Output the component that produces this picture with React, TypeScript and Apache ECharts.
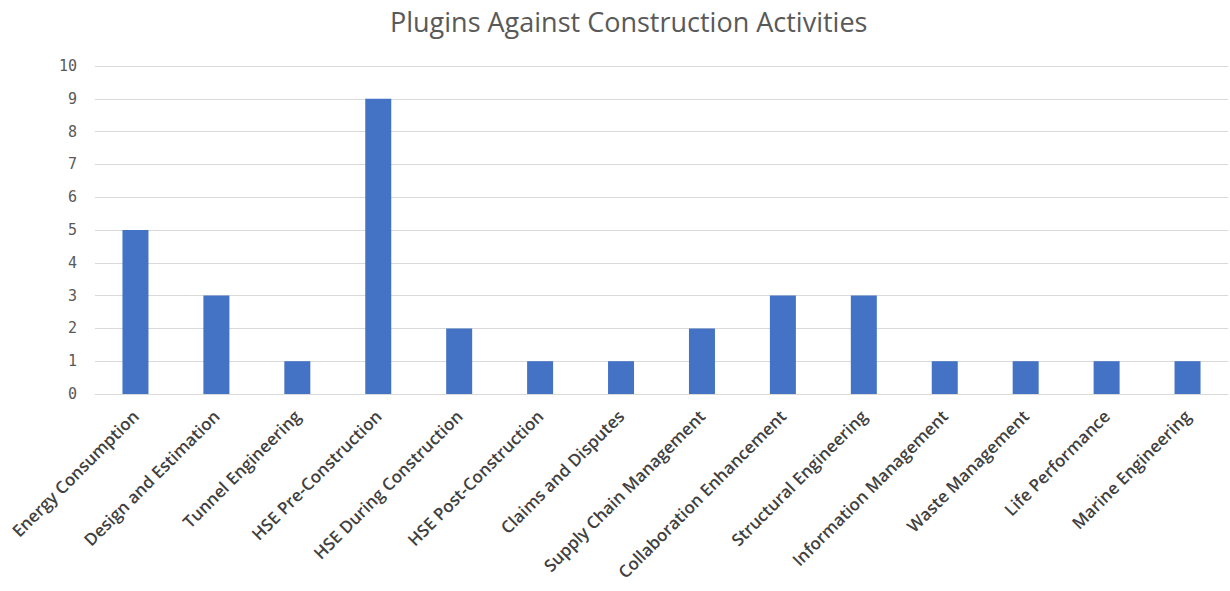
import React, { useEffect, useRef } from "react";
import * as echarts from "echarts";

const categories = [
  "Energy Consumption",
  "Design and Estimation",
  "Tunnel Engineering",
  "HSE Pre-Construction",
  "HSE During Construction",
  "HSE Post-Construction",
  "Claims and Disputes",
  "Supply Chain Management",
  "Collaboration Enhancement",
  "Structural Engineering",
  "Information Management",
  "Waste Management",
  "Life Performance",
  "Marine Engineering",
];
const values = [5, 3, 1, 9, 2, 1, 1, 2, 3, 3, 1, 1, 1, 1];
const titleText = "Plugins Against Construction Activities";

export default function App() {
  const ref = useRef<HTMLDivElement>(null);
  useEffect(() => {
    if (!ref.current) return;
    const chart = echarts.init(ref.current, undefined, { renderer: "svg" });
    chart.setOption({
      animation: false,
      backgroundColor: "#ffffff",
      title: {
        text: titleText,
        left: 385,
        top: 3,
        textStyle: {
          fontFamily: "Open Sans",
          fontSize: 27,
          fontWeight: "normal",
          color: "#595959",
        },
      },
      grid: {
        left: 95,
        right: 2,
        top: 66,
        bottom: 197,
        containLabel: false,
        outerBoundsMode: "none",
      },
      xAxis: {
        type: "category",
        data: categories,
        axisLine: { lineStyle: { color: "#d9d9d9", width: 1 } },
        axisTick: { show: false },
        axisLabel: {
          rotate: 45,
          interval: 0,
          margin: 19,
          fontFamily: "Open Sans",
          fontSize: 17,
          fontWeight: 600,
          color: "#404040",
        },
      },
      yAxis: {
        type: "value",
        min: 0,
        max: 10,
        interval: 1,
        axisLine: { show: false },
        axisTick: { show: false },
        axisLabel: {
          fontFamily: "DejaVu Sans Mono",
          fontSize: 15,
          color: "#595959",
          margin: 18,
        },
        splitLine: { lineStyle: { color: "#d9d9d9", width: 1 } },
      },
      series: [
        {
          type: "bar",
          data: values,
          barWidth: 26,
          itemStyle: { color: "#4472c4" },
        },
      ],
    });
    return () => chart.dispose();
  }, []);
  return (
    <div
      ref={ref}
      style={{ position: "fixed", left: 0, top: 0, width: 1230, height: 591 }}
    />
  );
}
